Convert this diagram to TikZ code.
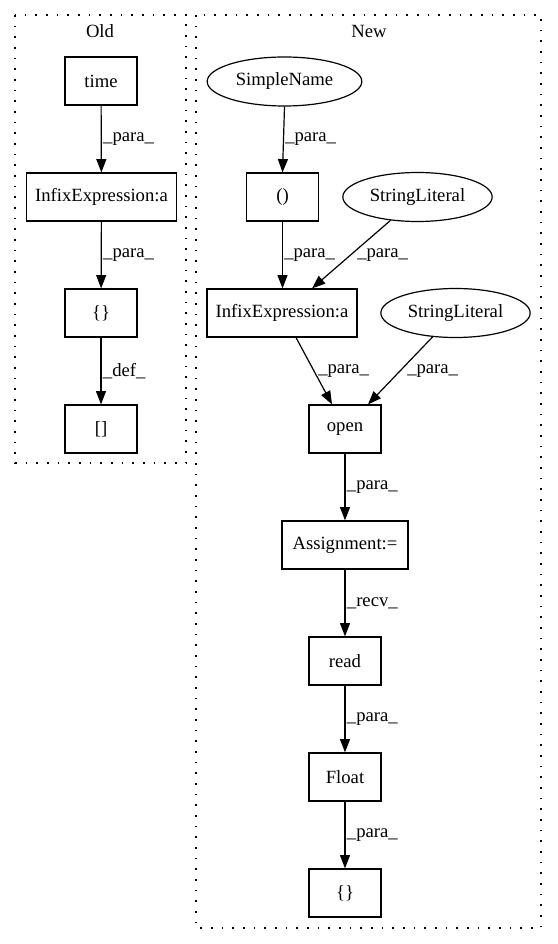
\documentclass[tikz,border=0pt]{standalone}
\usepackage{fontspec}
\setmainfont{Liberation Serif}
\usetikzlibrary{arrows.meta,calc,shapes.geometric}
\begin{document}
\begin{tikzpicture}[x=0.75pt,y=-0.75pt,
  font=\fontsize{14}{16}\selectfont,
  box/.style={draw,line width=0.9pt,rectangle,inner sep=0pt,minimum height=36pt,minimum width=54pt},
  oval/.style={draw,line width=0.9pt,ellipse,inner sep=0pt,minimum height=36.75pt,minimum width=112pt},
  edge/.style={line width=0.9pt,-{Triangle[length=10pt,width=7.5pt]}},
  elab/.style={anchor=west,inner sep=0pt},
  cluster/.style={draw,line width=0.9pt,dash pattern=on 1.2pt off 6.8pt}]
\useasboundingbox (0,0) rectangle (557,944);

% clusters
\draw[cluster] (15,15) rectangle (186,463);
\draw[cluster] (196,15) rectangle (541,928);
\node (oldlab) at (100,31) {Old};
\node (newlab) at (369,31) {New};

% Old
\node[box] (time) at (101,81) {time};
\node[box,minimum width=112pt] (infix1) at (101.5,197) {InfixExpression:a};
\node[box] (brace1) at (101,313) {\{\}};
\node[box] (brack) at (101,429) {[]};

\draw[edge] (time) -- (infix1) node[elab,pos=0.5,xshift=1pt] {\_para\_};
\draw[edge] (infix1) -- (brace1) node[elab,pos=0.5,xshift=1pt] {\_para\_};
\draw[edge] (brace1) -- (brack) node[elab,pos=0.5,xshift=1pt] {\_def\_};

% New
\node[oval,minimum width=116pt] (sn) at (284.5,81.5) {SimpleName};
\node[box] (paren) at (282.5,197) {()};
\node[oval] (sl1) at (417.5,197) {StringLiteral};
\node[box,minimum width=112.5pt] (infix2) at (282,313) {InfixExpression:a};
\node[oval] (sl2) at (455.5,313) {StringLiteral};
\node[box] (open) at (345,429) {open};
\node[box,minimum width=94.5pt] (assign) at (345,545) {Assignment:=};
\node[box] (read) at (345,661) {read};
\node[box] (float) at (345,777) {Float};
\node[box] (brace2) at (345,893) {\{\}};

\draw[edge] (sn.south) -- (paren.north);
\node[elab] (l1) at (285,139) {\_para\_};
\draw[edge] (paren) -- (paren |- infix2.north);
\node[elab] (l2) at (284,255) {\_para\_};
\draw[edge] (sl1) -- ($(infix2.north)+(30,0)$);
\node[elab] (l3) at (357,255) {\_para\_};
\draw[edge] ($(infix2.south)+(14,0)$) -- ($(open.north)+(-13,0)$);
\node[elab] (l4) at (318,371) {\_para\_};
\draw[edge] (sl2) -- ($(open.north)+(23,0)$);
\node[elab] (l5) at (407,371) {\_para\_};
\draw[edge] (open) -- (assign) node[elab,pos=0.5,xshift=1pt] {\_para\_};
\draw[edge] (assign) -- (read) node[elab,pos=0.5,xshift=1pt] {\_recv\_};
\draw[edge] (read) -- (float) node[elab,pos=0.5,xshift=1pt] {\_para\_};
\draw[edge] (float) -- (brace2) node[elab,pos=0.5,xshift=1pt] {\_para\_};
\end{tikzpicture}
\end{document}
